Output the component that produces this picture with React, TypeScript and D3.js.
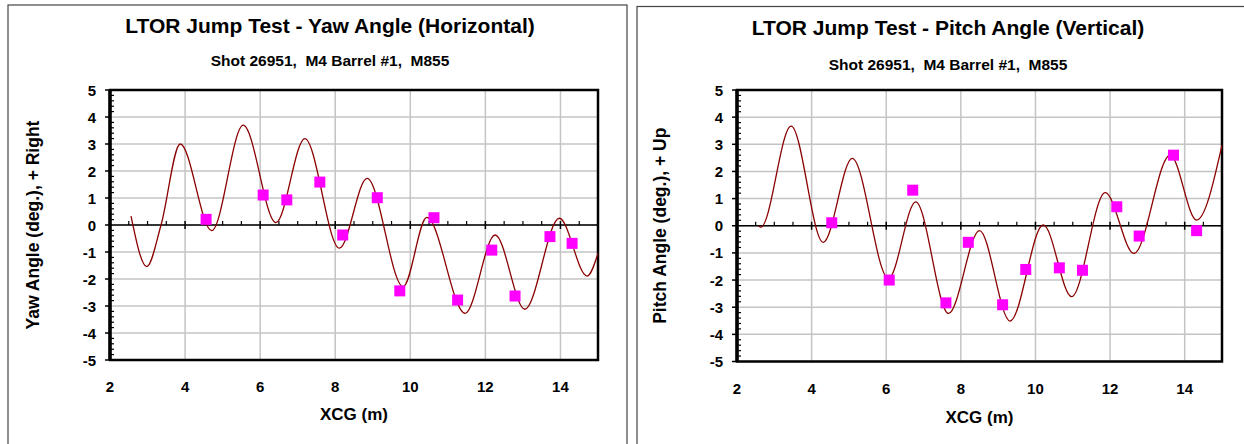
import React from "react";
import * as d3 from "d3";

// yaw curve (left chart) at peaks / troughs
const yawCurveX = [2.56, 2.98, 3.36, 3.87, 4.71, 5.55, 6.42, 7.19, 8.11, 8.85, 9.81, 10.44, 11.46, 12.26, 13.05, 13.97, 14.71, 15.0];
const yawCurveY = [0.33, -1.54, 0.0, 3.0, -0.21, 3.7, 0.09, 3.2, -0.86, 1.73, -2.28, 0.28, -3.27, -0.37, -3.12, 0.25, -1.89, -1.05];
const yawPointX = [4.56, 6.08, 6.71, 7.59, 8.2, 9.12, 9.72, 10.63, 11.26, 12.17, 12.79, 13.72, 14.31];
const yawPointY = [0.21, 1.11, 0.93, 1.59, -0.37, 1.01, -2.44, 0.27, -2.78, -0.93, -2.63, -0.43, -0.68];

// pitch curve (right chart)
const pitchCurveX = [2.58, 2.64, 3.45, 4.31, 5.09, 6.06, 6.79, 7.67, 8.5, 9.32, 10.21, 10.97, 11.87, 12.64, 13.61, 14.32, 15.0];
const pitchCurveY = [0.0, -0.05, 3.67, -0.61, 2.48, -1.94, 0.88, -3.23, -0.18, -3.51, 0.03, -2.61, 1.22, -1.02, 2.6, 0.21, 2.97];
const pitchPointX = [4.54, 6.08, 6.71, 7.6, 8.2, 9.12, 9.74, 10.64, 11.26, 12.18, 12.78, 13.7, 14.32];
const pitchPointY = [0.11, -2.0, 1.31, -2.84, -0.61, -2.91, -1.61, -1.55, -1.64, 0.7, -0.38, 2.6, -0.18];

const xTicks = [2, 4, 6, 8, 10, 12, 14];
const yTicks = [-5, -4, -3, -2, -1, 0, 1, 2, 3, 4, 5];
const xDomain = [2, 15];
const yDomain = [-5, 5];

const FONT = "Arial, 'Liberation Sans', sans-serif";

type PanelProps = {
  frame: { x: number; y: number; w: number; h: number };
  plot: { x0: number; x1: number; y0: number; y1: number };
  title: string;
  subtitle: string;
  titleX: number;
  titleY: number;
  subY: number;
  yLabel: string;
  yLabelX: number;
  xLabelY: number;
  curveX: number[];
  curveY: number[];
  pointX: number[];
  pointY: number[];
};

function Panel(p: PanelProps) {
  const x = d3.scaleLinear().domain(xDomain).range([p.plot.x0, p.plot.x1]);
  const y = d3.scaleLinear().domain(yDomain).range([p.plot.y1, p.plot.y0]);
  const curve = p.curveX.map((v, i) => [v, p.curveY[i]] as [number, number]);
  const line = d3
    .line<[number, number]>()
    .x((d) => x(d[0]))
    .y((d) => y(d[1]))
    .curve(d3.curveMonotoneX);

  const minorX = d3.range(2.5, 15, 0.5).filter((v) => Math.abs(v % 2) > 0.01);
  const minorY = d3.range(-5, 5.001, 0.2).filter((v) => Math.abs(v - Math.round(v)) > 0.01);
  const y0 = y(0);
  const midX = (p.plot.x0 + p.plot.x1) / 2;
  const midY = (p.plot.y0 + p.plot.y1) / 2;

  return (
    <g>
      <rect x={p.frame.x} y={p.frame.y} width={p.frame.w} height={p.frame.h} fill="#fff" stroke="#444" strokeWidth={1.2} />
      <text x={p.titleX} y={p.titleY} textAnchor="middle" fontFamily={FONT} fontWeight="bold" fontSize={21} fill="#000">
        {p.title}
      </text>
      <text x={p.titleX} y={p.subY} textAnchor="middle" fontFamily={FONT} fontWeight="bold" fontSize={15.5} fill="#000" style={{ whiteSpace: "pre" }}>
        {p.subtitle}
      </text>

      {/* grid */}
      {xTicks.slice(1).map((t) => (
        <line key={"gx" + t} x1={x(t)} x2={x(t)} y1={p.plot.y0} y2={p.plot.y1} stroke="#c4c4c4" strokeWidth={1.5} />
      ))}
      {yTicks.map((t) => (
        <line key={"gy" + t} x1={p.plot.x0} x2={p.plot.x1} y1={y(t)} y2={y(t)} stroke="#c4c4c4" strokeWidth={1.5} />
      ))}

      {/* zero line with ticks */}
      <line x1={p.plot.x0} x2={p.plot.x1} y1={y0} y2={y0} stroke="#000" strokeWidth={1.5} />
      {minorX.map((t) => (
        <line key={"mx" + t} x1={x(t)} x2={x(t)} y1={y0 - 4} y2={y0} stroke="#000" strokeWidth={1.2} />
      ))}
      {xTicks.slice(1).map((t) => (
        <line key={"tx" + t} x1={x(t)} x2={x(t)} y1={y0 - 4} y2={y0 + 4} stroke="#000" strokeWidth={1.5} />
      ))}

      {/* plot border */}
      <rect x={p.plot.x0} y={p.plot.y0} width={p.plot.x1 - p.plot.x0} height={p.plot.y1 - p.plot.y0} fill="none" stroke="#000" strokeWidth={2.5} />
      <line x1={p.plot.x0} x2={p.plot.x0} y1={p.plot.y0} y2={p.plot.y1} stroke="#000" strokeWidth={3.5} />
      {minorY.map((t) => (
        <line key={"my" + t} x1={p.plot.x0} x2={p.plot.x0 + 4} y1={y(t)} y2={y(t)} stroke="#000" strokeWidth={1.2} />
      ))}
      {yTicks.map((t) => (
        <line key={"ty" + t} x1={p.plot.x0 - 5} x2={p.plot.x0} y1={y(t)} y2={y(t)} stroke="#000" strokeWidth={1.5} />
      ))}

      {/* tick labels */}
      {yTicks.map((t) => (
        <text key={"ly" + t} x={p.plot.x0 - 14} y={y(t) + 5.5} textAnchor="end" fontFamily={FONT} fontWeight="bold" fontSize={15}>
          {t}
        </text>
      ))}
      {xTicks.map((t) => (
        <text key={"lx" + t} x={x(t)} y={p.plot.y1 + 32} textAnchor="middle" fontFamily={FONT} fontWeight="bold" fontSize={15}>
          {t}
        </text>
      ))}
      <text x={midX} y={p.xLabelY} textAnchor="middle" fontFamily={FONT} fontWeight="bold" fontSize={17}>
        XCG (m)
      </text>
      <text
        transform={`translate(${p.yLabelX},${midY}) rotate(-90)`}
        textAnchor="middle"
        fontFamily={FONT}
        fontWeight="bold"
        fontSize={17.5}
      >
        {p.yLabel}
      </text>

      {/* series */}
      <path d={line(curve) ?? ""} fill="none" stroke="#8b0000" strokeWidth={1.3} />
      {p.pointX.map((v, i) => (
        <rect key={"pt" + i} x={x(v) - 5.5} y={y(p.pointY[i]) - 5.5} width={11} height={11} fill="#ff00ff" />
      ))}
    </g>
  );
}

export default function App() {
  return (
    <svg width={1244} height={444} style={{ position: "absolute", left: 0, top: 0, background: "#fff" }}>
      <Panel
        frame={{ x: 8, y: 5, w: 619, h: 440 }}
        plot={{ x0: 110, x1: 598, y0: 90, y1: 360 }}
        title="LTOR Jump Test - Yaw Angle (Horizontal)"
        subtitle="Shot 26951,  M4 Barrel #1,  M855"
        titleX={330}
        titleY={33}
        subY={66}
        yLabel="Yaw Angle (deg.), + Right"
        yLabelX={39}
        xLabelY={420}
        curveX={yawCurveX}
        curveY={yawCurveY}
        pointX={yawPointX}
        pointY={yawPointY}
      />
      <Panel
        frame={{ x: 637, y: 6.5, w: 620, h: 440 }}
        plot={{ x0: 737, x1: 1222, y0: 90, y1: 361.5 }}
        title="LTOR Jump Test - Pitch Angle (Vertical)"
        subtitle="Shot 26951,  M4 Barrel #1,  M855"
        titleX={948}
        titleY={35}
        subY={70}
        yLabel="Pitch Angle (deg.), + Up"
        yLabelX={666}
        xLabelY={423}
        curveX={pitchCurveX}
        curveY={pitchCurveY}
        pointX={pitchPointX}
        pointY={pitchPointY}
      />
    </svg>
  );
}
